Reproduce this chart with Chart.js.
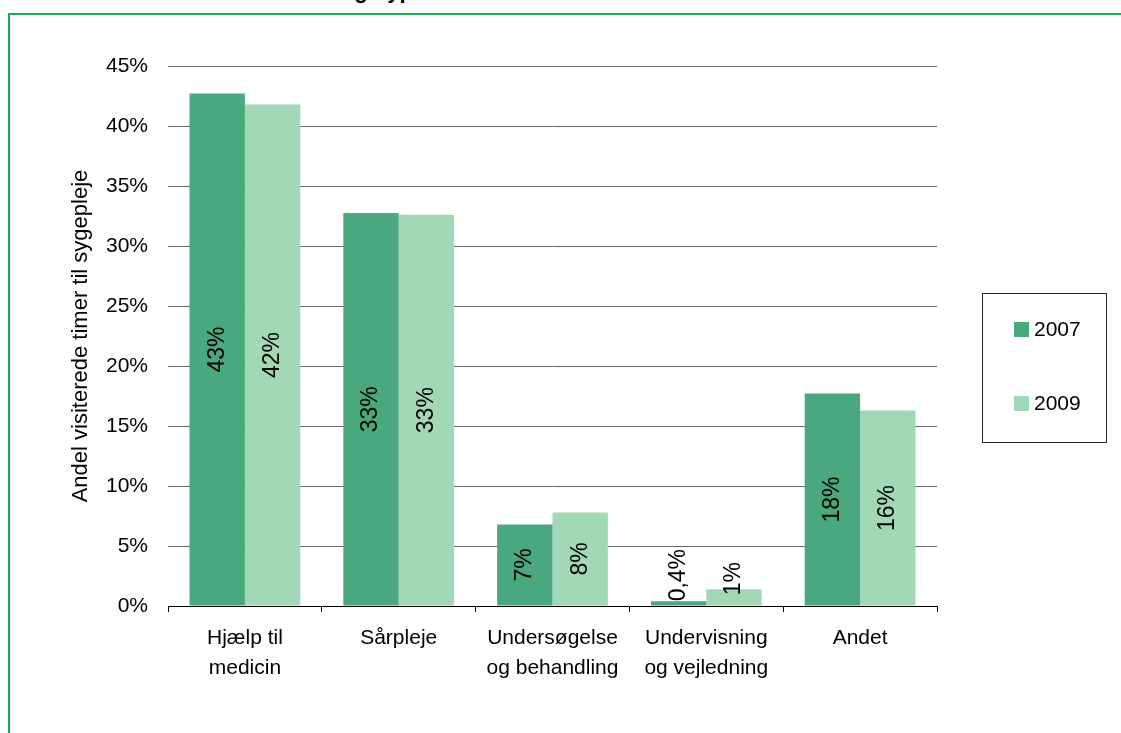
<!DOCTYPE html>
<html>
<head>
<meta charset="utf-8">
<script src="https://cdn.jsdelivr.net/npm/chart.js@4.4.0/dist/chart.umd.min.js"></script>
<style>
  html, body { margin: 0; padding: 0; background: #fff; overflow: hidden; }
  body { width: 1121px; height: 733px; position: relative; font-family: "Liberation Sans", Arial, sans-serif; }
  #frame { position: absolute; left: 8px; top: 13px; width: 1200px; height: 800px;
           border-left: 2px solid #1aab55; border-top: 2px solid #1aab55; }
  #title { position: absolute; left: 122px; top: -20px; font-weight: bold; font-size: 22px;
           line-height: 22px; white-space: nowrap; color: #000; }
  #chart { position: absolute; left: 0; top: 0; }
  #legend { position: absolute; left: 982px; top: 293px; width: 125px; height: 150px;
            border: 1px solid #262626; box-sizing: border-box; }
  .item { position: absolute; left: 31px; font-size: 21px; line-height: 24px; color: #000; }
  .item span { display: inline-block; width: 15px; height: 15px; margin-right: 5px; vertical-align: -1px; }
</style>
</head>
<body>
<div id="title">Andel timer efter besøgstype</div>
<div id="frame"></div>
<canvas id="chart" width="1121" height="733"></canvas>
<div id="legend"></div>
<script>
// categories and values (percent)
const categories = [["Hjælp til", "medicin"], "Sårpleje", ["Undersøgelse", "og behandling"], ["Undervisning", "og vejledning"], "Andet"];
const years = ["2007", "2009"];
const values2007 = [42.7, 32.75, 6.8, 0.4, 17.7];
const values2009 = [41.8, 32.6, 7.8, 1.4, 16.3];
const colors = ["#4aa87e", "#a3d8b7"];

Chart.defaults.font.family = '"Liberation Sans", Arial, sans-serif';
Chart.defaults.color = "#000";

function fmt(v) {
  return v < 1 ? v.toFixed(1).replace(".", ",") + "%" : Math.round(v) + "%";
}

// rotated value labels, centred in the bar or just above it when it is too short
const barLabels = {
  id: "barLabels",
  afterDatasetsDraw(chart) {
    const ctx = chart.ctx;
    ctx.save();
    ctx.font = '23px "Liberation Sans", Arial, sans-serif';
    ctx.fillStyle = "#000";
    ctx.textBaseline = "middle";
    ctx.textAlign = "center";
    chart.data.datasets.forEach((ds, i) => {
      chart.getDatasetMeta(i).data.forEach((bar, j) => {
        const txt = fmt(ds.data[j]);
        const w = ctx.measureText(txt).width;
        const h = bar.base - bar.y;
        const mid = (bar.y + bar.base) / 2;
        let cy = mid;
        if (w > h - 6) cy = mid - 2 - w / 2;
        ctx.save();
        ctx.translate(bar.x, cy);
        ctx.rotate(-Math.PI / 2);
        ctx.fillText(txt, 0, 0);
        ctx.restore();
      });
    });
    ctx.restore();
  }
};

const chart = new Chart(document.getElementById("chart"), {
  type: "bar",
  data: {
    labels: categories,
    datasets: [
      { label: years[0], data: values2007, backgroundColor: colors[0] },
      { label: years[1], data: values2009, backgroundColor: colors[1] }
    ]
  },
  options: {
    responsive: false,
    animation: false,
    layout: { padding: { left: 0, top: 66, right: 184, bottom: 0 } },
    datasets: { bar: { categoryPercentage: 0.72, barPercentage: 1 } },
    plugins: { legend: { display: false }, tooltip: { enabled: false } },
    scales: {
      x: {
        grid: { drawOnChartArea: false, drawTicks: true, tickLength: 6, color: "#000", offset: true },
        border: { display: true, color: "#000", width: 1 },
        ticks: { color: "#000", font: { size: 21, lineHeight: 1.43 }, padding: 11, maxRotation: 0, autoSkip: false },
        afterFit(s) { s.height = 127; }
      },
      y: {
        min: 0,
        max: 45,
        ticks: { stepSize: 5, callback: v => v + "%", color: "#000", font: { size: 21 }, padding: 20 },
        grid: { color: "#666666", drawTicks: false },
        border: { display: false },
        title: { display: true, text: "Andel visiterede timer til sygepleje", color: "#000",
                 font: { size: 22 }, padding: { top: 68, bottom: 0 } },
        afterFit(s) { s.width = 168; }
      }
    }
  },
  plugins: [barLabels]
});

// legend box built from the datasets
const legend = document.getElementById("legend");
chart.data.datasets.forEach((ds, i) => {
  const d = document.createElement("div");
  d.className = "item";
  d.style.top = (i === 0 ? 23 : 97) + "px";
  d.innerHTML = '<span style="background:' + ds.backgroundColor + '"></span>' + ds.label;
  legend.appendChild(d);
});
</script>
</body>
</html>
